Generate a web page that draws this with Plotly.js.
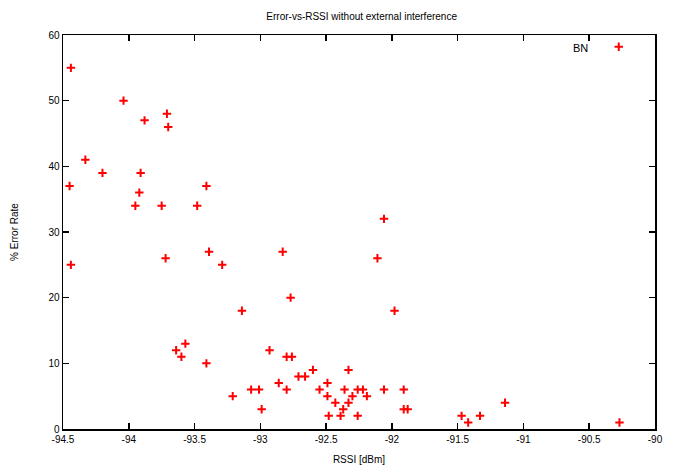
<!DOCTYPE html>
<html>
<head>
<meta charset="utf-8">
<script src="https://cdn.plot.ly/plotly-3.0.1.min.js"></script>
<style>html,body{margin:0;padding:0;background:#fff;}#chart{width:676px;height:468px;}</style>
</head>
<body>
<div id="chart"></div>
<script>
const seriesName = "BN";
const rssi = [
  -94.44, -94.04, -93.88, -93.71, -93.70, -94.33, -94.20, -93.91, -94.45, -93.41,
  -93.92, -93.95, -93.75, -93.48, -94.44, -93.72, -93.39, -93.29, -93.14, -92.93,
  -93.57, -93.64, -93.60, -93.41, -93.21, -93.07, -93.01, -92.99, -92.06, -92.83,
  -92.11, -92.77, -91.98, -92.80, -92.76, -92.60, -92.33, -92.71, -92.66, -92.86,
  -92.49, -92.80, -92.55, -92.36, -92.26, -92.22, -92.06, -91.91, -92.49, -92.30,
  -92.19, -92.43, -92.33, -92.37, -91.91, -91.88, -92.48, -92.39, -92.26, -91.47,
  -91.42, -91.33, -91.14, -90.27
];
const errorRate = [
  55, 50, 47, 48, 46, 41, 39, 39, 37, 37,
  36, 34, 34, 34, 25, 26, 27, 25, 18, 12,
  13, 12, 11, 10, 5, 6, 6, 3, 32, 27,
  26, 20, 18, 11, 11, 9, 9, 8, 8, 7,
  7, 6, 6, 6, 6, 6, 6, 6, 5, 5,
  5, 4, 4, 3, 3, 3, 2, 2, 2, 2,
  1, 2, 4, 1
];
const xTicks = [-94.5, -94, -93.5, -93, -92.5, -92, -91.5, -91, -90.5, -90];
const yTicks = [0, 10, 20, 30, 40, 50, 60];

const font = {family: "Liberation Sans, Arial, sans-serif", size: 10, color: "#000"};

const trace = {
  x: rssi, y: errorRate, type: "scatter", mode: "markers", name: " ",
  marker: {symbol: "cross-thin", size: 6, color: "#ff0000", line: {color: "#ff0000", width: 2}},
  showlegend: true
};

const axisCommon = {
  showgrid: false, zeroline: false, showline: true, linecolor: "#000", linewidth: 1.5,
  mirror: "ticks", ticks: "inside", ticklen: 6, tickwidth: 1.5, tickcolor: "#000",
  tickfont: font
};

const layout = {
  width: 676, height: 468,
  margin: {l: 63, r: 21, t: 35, b: 39},
  paper_bgcolor: "#fff", plot_bgcolor: "#fff",
  font: font,
  title: {text: "Error-vs-RSSI without external interference", font: {family: font.family, size: 10, color: "#000"}, x: 0.535, xanchor: "center", y: 0.965, yanchor: "middle"},
  xaxis: Object.assign({}, axisCommon, {
    range: [-94.5, -90], tickmode: "array", tickvals: xTicks, ticktext: xTicks.map(String),
    title: {text: "RSSI [dBm]", font: font, standoff: 12}
  }),
  yaxis: Object.assign({}, axisCommon, {
    range: [0, 60], tickmode: "array", tickvals: yTicks, ticktext: yTicks.map(String),
    title: {text: "% Error Rate", font: font, standoff: 28}
  }),
  showlegend: true,
  legend: {x: 0.905, y: 1.007, xanchor: "left", yanchor: "top", bgcolor: "rgba(0,0,0,0)", borderwidth: 0, font: font},
  annotations: [{
    xref: "paper", yref: "paper", x: 0.89, y: 0.966, xanchor: "right", yanchor: "middle",
    text: seriesName, showarrow: false, font: {family: font.family, size: 11, color: "#000"}
  }]
};

Plotly.newPlot("chart", [trace], layout, {displayModeBar: false, staticPlot: true});
</script>
</body>
</html>
